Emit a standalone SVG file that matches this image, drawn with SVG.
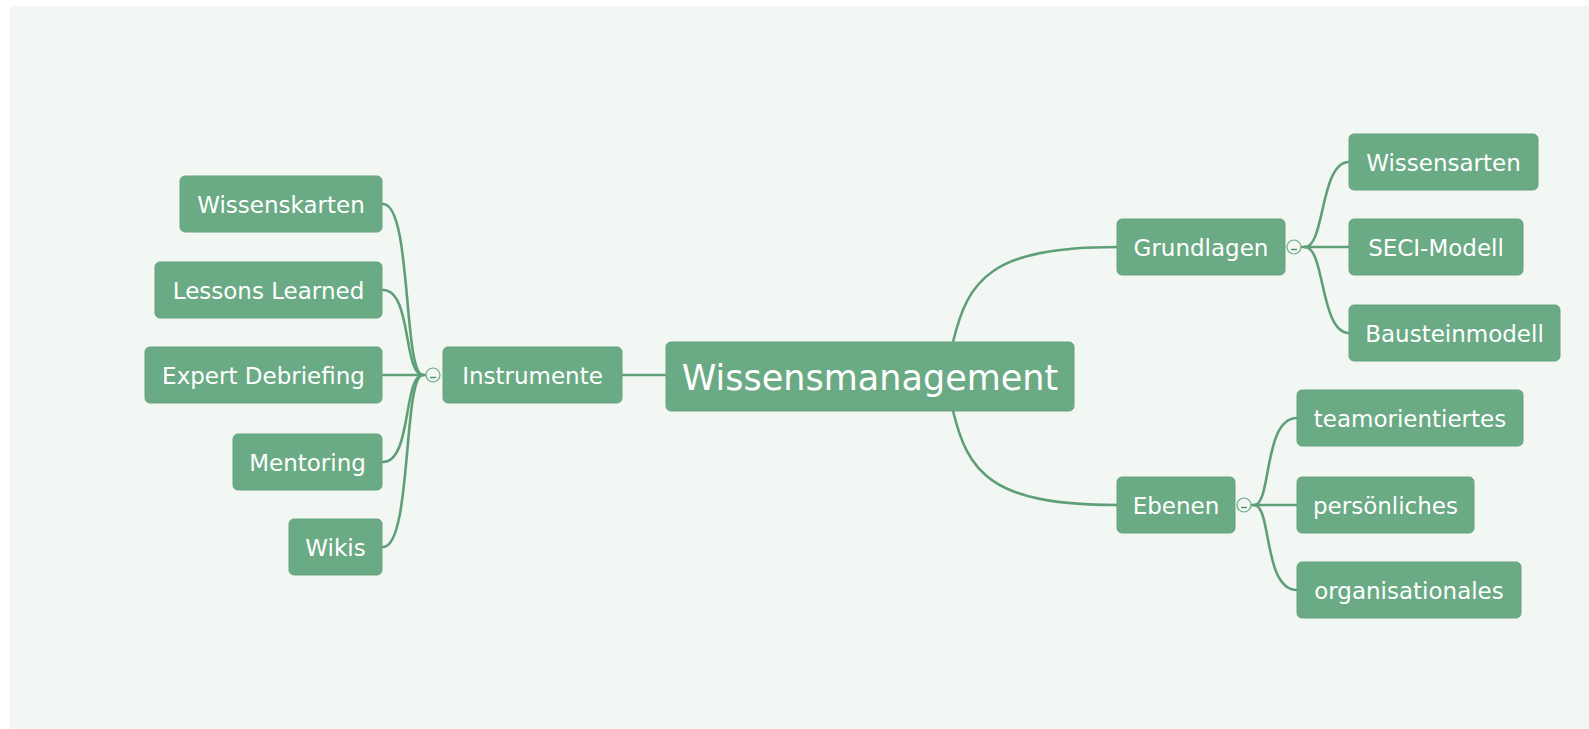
<svg xmlns="http://www.w3.org/2000/svg" width="1589" height="729" viewBox="0 0 1589 729">
<style>
.bg{fill:#ffffff}
.canvas{fill:#f3f7f4}
.node rect{fill:#6aaa84;stroke:#64a37e;stroke-width:1}
.node text{fill:#ffffff;font-family:"DejaVu Sans","Verdana",sans-serif;font-size:23px;text-anchor:middle}
#root text{font-size:35px}
.conn path{fill:none;stroke:#5f9f78;stroke-width:2.6;stroke-linecap:round}
.toggle circle{fill:#f3f7f4;stroke:#6aaa84;stroke-width:1.2}
.toggle line{stroke:#4f8f68;stroke-width:1.4}
</style>
<rect class="bg" x="0" y="0" width="1589" height="729"/>
<rect class="canvas" x="10" y="6" width="1579" height="723"/>

<g id="connectors" class="conn">
  <path d="M383 204 C412 204 403 375 423 375"/>
  <path d="M383 290 C412 290 403 375 423 375"/>
  <path d="M383 375 L426 375"/>
  <path d="M383 462 C412 462 403 375 423 375"/>
  <path d="M383 547 C412 547 403 375 423 375"/>
  <path d="M622 375 L666 375"/>
  <path d="M953 342 C968 280 990 247 1117 247"/>
  <path d="M953 411 C968 472 990 505 1117 505"/>
  <path d="M1301 247 L1305 247"/>
  <path d="M1305 247 C1325 247 1320 162 1349 162"/>
  <path d="M1305 247 L1349 247"/>
  <path d="M1305 247 C1325 247 1320 333 1349 333"/>
  <path d="M1251 505 L1254 505"/>
  <path d="M1254 505 C1272 505 1263 418 1297 418"/>
  <path d="M1254 505 L1297 505"/>
  <path d="M1254 505 C1272 505 1263 590 1297 590"/>
</g>

<g id="toggles" class="toggle">
  <g id="toggle-instrumente"><circle cx="433" cy="375" r="7"/><line x1="430" y1="377.5" x2="436" y2="377.5"/></g>
  <g id="toggle-grundlagen"><circle cx="1294" cy="247" r="7"/><line x1="1291" y1="249.5" x2="1297" y2="249.5"/></g>
  <g id="toggle-ebenen"><circle cx="1244" cy="505" r="7"/><line x1="1241" y1="507.5" x2="1247" y2="507.5"/></g>
</g>

<g id="root" class="node"><rect x="666" y="342" width="408" height="69" rx="5"/><text x="870" y="389.5">Wissensmanagement</text></g>

<g id="instrumente" class="node"><rect x="443" y="347" width="179" height="56" rx="5"/><text x="532.5" y="383.5">Instrumente</text></g>
<g id="wissenskarten" class="node"><rect x="180" y="176" width="202" height="56" rx="5"/><text x="281" y="212.5">Wissenskarten</text></g>
<g id="lessons-learned" class="node"><rect x="155" y="262" width="227" height="56" rx="5"/><text x="268.5" y="298.5">Lessons Learned</text></g>
<g id="expert-debriefing" class="node"><rect x="145" y="347" width="237" height="56" rx="5"/><text x="263.5" y="383.5">Expert Debriefing</text></g>
<g id="mentoring" class="node"><rect x="233" y="434" width="149" height="56" rx="5"/><text x="307.5" y="470.5">Mentoring</text></g>
<g id="wikis" class="node"><rect x="289" y="519" width="93" height="56" rx="5"/><text x="335.5" y="555.5">Wikis</text></g>

<g id="grundlagen" class="node"><rect x="1117" y="219" width="168" height="56" rx="5"/><text x="1201" y="255.5">Grundlagen</text></g>
<g id="wissensarten" class="node"><rect x="1349" y="134" width="189" height="56" rx="5"/><text x="1443.5" y="170.5">Wissensarten</text></g>
<g id="seci-modell" class="node"><rect x="1349" y="219" width="174" height="56" rx="5"/><text x="1436" y="255.5">SECI-Modell</text></g>
<g id="bausteinmodell" class="node"><rect x="1349" y="305" width="211" height="56" rx="5"/><text x="1454.5" y="341.5">Bausteinmodell</text></g>

<g id="ebenen" class="node"><rect x="1117" y="477" width="118" height="56" rx="5"/><text x="1176" y="513.5">Ebenen</text></g>
<g id="teamorientiertes" class="node"><rect x="1297" y="390" width="226" height="56" rx="5"/><text x="1410" y="426.5">teamorientiertes</text></g>
<g id="persoenliches" class="node"><rect x="1297" y="477" width="177" height="56" rx="5"/><text x="1385.5" y="513.5">persönliches</text></g>
<g id="organisationales" class="node"><rect x="1297" y="562" width="224" height="56" rx="5"/><text x="1409" y="598.5">organisationales</text></g>
</svg>
